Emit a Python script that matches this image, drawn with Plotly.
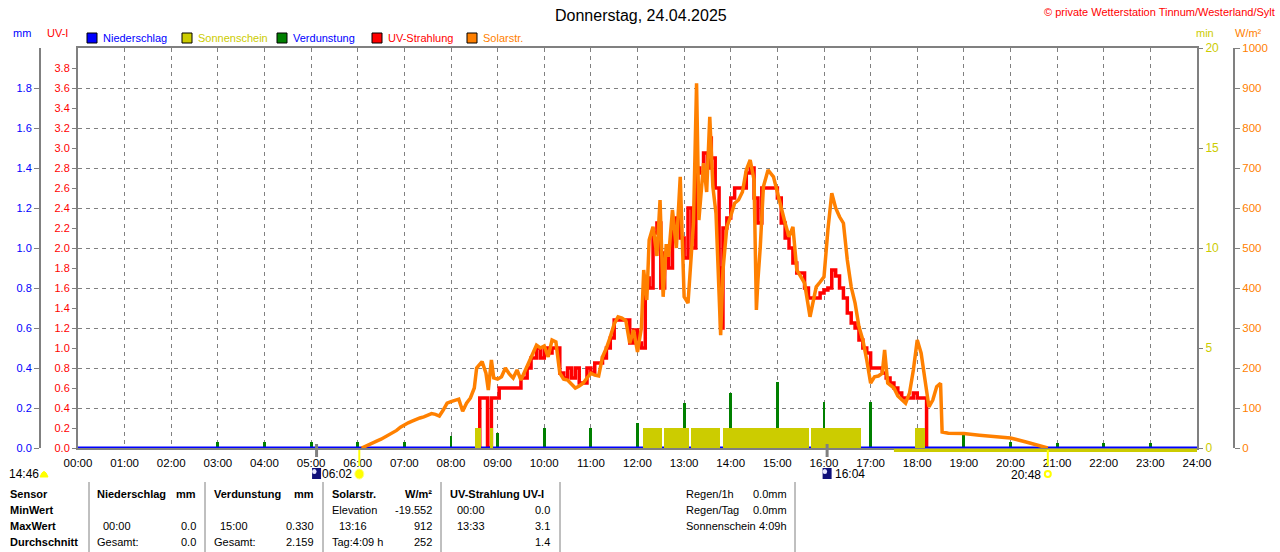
import plotly.graph_objects as go

W, H = 1280, 552

hour_labels = ["%02d:00" % h for h in range(25)]

# Sonnenschein (min je Minute)
sun_start = ["08:31", "08:50", "12:07", "12:34", "13:09", "13:50", "15:43", "17:57"]
sun_end = ["08:39", "08:54", "12:32", "13:06", "13:46", "15:41", "16:47", "18:10"]
sun_min = [1, 1, 1, 1, 1, 1, 1, 1]

# Verdunstung (mm je Stunde)
evap_time = ["03:00", "04:00", "05:00", "06:00", "07:00", "08:00", "09:00", "10:00",
             "11:00", "12:00", "13:00", "14:00", "15:00", "16:00", "17:00", "18:00",
             "19:00", "20:00", "21:00", "22:00", "23:00"]
evap_mm = [0.03, 0.03, 0.03, 0.03, 0.03, 0.06, 0.075, 0.1, 0.1, 0.125, 0.225, 0.275,
           0.33, 0.23, 0.23, 0.1, 0.07, 0.03, 0.025, 0.025, 0.025]

# Niederschlag
rain_time = ["00:00", "24:00"]
rain_mm = [0.0, 0.0]

# Solarstrahlung W/m2
solar_time = ["06:05", "06:10", "06:15", "06:20", "06:25", "06:30", "06:35", "06:40", "06:45",
              "06:50", "06:55", "07:00", "07:05", "07:10", "07:15", "07:20", "07:25", "07:30",
              "07:35", "07:40", "07:45", "07:50", "07:55", "08:00", "08:05", "08:10", "08:15",
              "08:20", "08:25", "08:30", "08:33", "08:40", "08:45", "08:48", "08:52", "08:55",
              "09:00", "09:05", "09:10", "09:15", "09:20", "09:25", "09:30", "09:35", "09:40",
              "09:45", "09:50", "09:55", "10:00", "10:05", "10:10", "10:15", "10:20", "10:25",
              "10:30", "10:35", "10:40", "10:45", "10:50", "10:55", "11:00", "11:05", "11:10",
              "11:15", "11:20", "11:25", "11:30", "11:35", "11:40", "11:45", "11:50", "11:55",
              "12:00", "12:05", "12:08", "12:12", "12:15", "12:20", "12:25", "12:29", "12:33",
              "12:37", "12:40", "12:45", "12:50", "12:55", "13:00", "13:05", "13:10", "13:12",
              "13:16", "13:19", "13:25", "13:29", "13:33", "13:37", "13:41", "13:44", "13:47",
              "13:50", "13:55", "14:00", "14:05", "14:10", "14:15", "14:20", "14:25", "14:30",
              "14:33", "14:35", "14:38", "14:42", "14:48", "14:55", "15:00", "15:05", "15:10",
              "15:15", "15:20", "15:25", "15:30", "15:35", "15:42", "15:50", "15:55", "16:00",
              "16:05", "16:10", "16:15", "16:20", "16:25", "16:30", "16:35", "16:40", "16:45",
              "16:50", "16:55", "17:00", "17:05", "17:10", "17:15", "17:18", "17:22", "17:30",
              "17:35", "17:40", "17:45", "17:50", "17:55", "18:00", "18:05", "18:10", "18:15",
              "18:20", "18:25", "18:30", "18:32", "18:40", "19:00", "19:20", "19:40", "20:00",
              "20:20", "20:35", "20:45", "20:48"]
solar_wm2 = [0, 5, 10, 14, 18, 22, 27, 32, 37,
             44, 52, 58, 63, 67, 72, 75, 78, 82,
             86, 84, 80, 95, 112, 116, 118, 122, 92,
             112, 125, 150, 200, 216, 187, 145, 220, 175,
             172, 178, 200, 185, 175, 195, 170, 190, 215,
             235, 257, 250, 255, 228, 270, 265, 187, 172,
             170, 160, 150, 155, 162, 175, 187, 182, 180,
             228, 250, 278, 310, 328, 325, 318, 262, 295,
             240, 300, 445, 370, 520, 553, 480, 620, 378,
             510, 478, 595, 500, 678, 378, 362, 500, 562,
             912, 570, 712, 640, 828, 653, 587, 400, 282,
             445, 553, 580, 612, 620, 640, 695, 720, 670,
             345, 420, 503, 653, 695, 678, 637, 600, 562,
             528, 553, 445, 430, 412, 328, 403, 415, 428,
             545, 637, 600, 578, 562, 470, 403, 362, 303,
             270, 220, 162, 178, 180, 187, 245, 162, 150,
             130, 120, 112, 137, 195, 270, 237, 170, 103,
             120, 153, 162, 40, 37, 36, 32, 28, 25,
             15, 6, 2, 0]

# UV-Index
uv_time = ["08:36", "08:37", "08:46", "08:47", "08:51", "08:52", "09:02", "09:30", "09:38",
           "09:43", "09:50", "09:55", "10:00", "10:05", "10:10", "10:20", "10:25", "10:30",
           "10:35", "10:40", "10:45", "10:55", "11:00", "11:05", "11:15", "11:20", "11:25",
           "11:30", "11:50", "11:55", "12:00", "12:05", "12:10", "12:15", "12:20", "12:25",
           "12:30", "12:35", "12:40", "12:45", "12:50", "12:55", "13:00", "13:05", "13:10",
           "13:15", "13:20", "13:25", "13:30", "13:33", "13:35", "13:40", "13:45", "13:47",
           "13:50", "13:55", "14:00", "14:05", "14:20", "14:25", "14:30", "14:35", "14:40",
           "15:00", "15:05", "15:10", "15:15", "15:20", "15:25", "15:35", "15:40", "15:55",
           "16:00", "16:05", "16:10", "16:15", "16:20", "16:25", "16:30", "16:35", "16:40",
           "16:45", "16:50", "16:55", "17:00", "17:15", "17:20", "17:25", "17:30", "17:35",
           "17:40", "17:55", "18:00", "18:12"]
uv_index = [0.0, 0.5, 0.5, 0.0, 0.0, 0.5, 0.6, 0.7, 0.8,
            0.9, 1.0, 0.9, 1.0, 0.95, 1.0, 0.75, 0.7, 0.8,
            0.7, 0.8, 0.65, 0.8, 0.75, 0.85, 0.9, 1.0, 1.1,
            1.28, 1.05, 1.18, 1.05, 1.0, 1.7, 1.6, 2.15, 2.25,
            1.6, 1.95, 1.8, 2.2, 2.3, 2.1, 1.9, 2.4, 2.0,
            2.8, 2.75, 2.95, 2.8, 3.1, 2.9, 2.6, 1.8, 1.2,
            2.2, 2.3, 2.5, 2.6, 2.75, 2.8, 2.5, 2.25, 2.6,
            2.5, 2.25, 2.1, 2.0, 1.85, 1.75, 1.6, 1.5, 1.55,
            1.58, 1.6, 1.78, 1.72, 1.6, 1.5, 1.35, 1.25, 1.2,
            1.08, 1.0, 0.95, 0.8, 0.75, 0.7, 0.65, 0.6, 0.55,
            0.5, 0.55, 0.5, 0.0]

dusk_line = ["17:30", "24:00"]
moon_events = ["05:07", "16:04"]
sun_events = ["06:02", "20:48"]
day_length = "14:46"


def hrs(s):
    h, m = s.split(":")
    return int(h) + int(m) / 60.0


def px(x):
    return x / W


def py(y):
    return 1 - y / H


GRAY = "#808080"
FONT = "Liberation Sans, Arial, sans-serif"

fig = go.Figure()

sx = [(hrs(a) + hrs(b)) / 2 for a, b in zip(sun_start, sun_end)]
sw = [hrs(b) - hrs(a) for a, b in zip(sun_start, sun_end)]
fig.add_trace(go.Bar(x=sx, y=sun_min, width=sw, yaxis="y3", marker_color="#cccc00",
                     marker_line_width=0, name="Sonnenschein"))
fig.add_trace(go.Bar(x=[hrs(t) for t in evap_time], y=evap_mm, width=0.06, yaxis="y2",
                     marker_color="#008000", marker_line_width=0, name="Verdunstung"))
fig.add_trace(go.Scatter(x=[hrs(t) for t in solar_time], y=solar_wm2, yaxis="y4", mode="lines",
                         line=dict(color="#ff8000", width=3.5), name="Solarstr."))
fig.add_trace(go.Scatter(x=[hrs(t) for t in uv_time], y=uv_index, yaxis="y", mode="lines",
                         line=dict(color="#ff0000", width=3.5, shape="hv"), name="UV-Strahlung"))
fig.add_trace(go.Scatter(x=[hrs(t) for t in rain_time], y=rain_mm, yaxis="y2", mode="lines",
                         line=dict(color="#0000ff", width=3), name="Niederschlag"))

xd = [px(78), px(1197)]
yd = [py(448), py(48)]

fig.update_layout(
    width=W, height=H, margin=dict(l=0, r=0, t=0, b=0, autoexpand=False),
    paper_bgcolor="white", plot_bgcolor="white",
    showlegend=False, barmode="overlay", bargap=0,
    font=dict(family=FONT, size=11, color="black"),
    xaxis=dict(domain=xd, range=[0, 24], tickvals=list(range(25)), ticktext=hour_labels,
               showgrid=True, gridcolor=GRAY, griddash="4px,4px", gridwidth=1,
               showline=True, linecolor=GRAY, linewidth=2, mirror=True, zeroline=False,
               ticks="outside", ticklen=3, tickcolor="rgba(0,0,0,0)", automargin=False,
               tickfont=dict(size=11.5, color="black")),
    yaxis=dict(domain=yd, range=[0, 4], tickvals=[i * 0.2 for i in range(20)],
               ticktext=["%.1f" % (i * 0.2) for i in range(20)], automargin=False,
               showgrid=False, zeroline=False, showline=True, linecolor=GRAY, linewidth=2,
               mirror=True, ticks="outside", ticklen=4, tickcolor=GRAY,
               tickfont=dict(color="#ff0000", size=11)),
    yaxis2=dict(overlaying="y", anchor="free", position=px(40), side="left", range=[0, 2],
                tickvals=[i * 0.2 for i in range(10)], automargin=False,
                ticktext=["%.1f" % (i * 0.2) for i in range(10)],
                showgrid=True, gridcolor=GRAY, griddash="4px,4px", gridwidth=1, zeroline=False,
                showline=True, linecolor=GRAY, linewidth=2, ticks="outside", ticklen=5,
                tickcolor=GRAY, tickfont=dict(color="#0000ff", size=11)),
    yaxis3=dict(overlaying="y", anchor="x", side="right", range=[0, 20], automargin=False,
                tickvals=[0, 5, 10, 15, 20], showgrid=False, zeroline=False, showline=False,
                ticks="outside", ticklen=5, tickcolor=GRAY,
                tickfont=dict(color="#cccc00", size=12)),
    yaxis4=dict(overlaying="y", anchor="free", position=px(1234), side="right", range=[0, 1000],
                tickvals=list(range(0, 1001, 100)), showgrid=False, zeroline=False,
                automargin=False,
                showline=True, linecolor=GRAY, linewidth=2, ticks="outside", ticklen=5,
                tickcolor=GRAY, tickfont=dict(color="#ff8000", size=11.5)),
)

ann = []


def txt(x, y, s, color="black", size=11, anchor="left", bold=False):
    if bold:
        s = "<b>" + s + "</b>"
    ann.append(dict(x=px(x), y=py(y), xref="paper", yref="paper", text=s, showarrow=False,
                    xanchor=anchor, yanchor="middle", font=dict(color=color, size=size, family=FONT)))


txt(641, 15, "Donnerstag, 24.04.2025", size=16, anchor="center")
txt(1277, 12, "© private Wetterstation Tinnum/Westerland/Sylt", color="#ff0000", anchor="right")
txt(22, 33, "mm", color="#0000ff", anchor="center")
txt(57, 33, "UV-I", color="#ff0000", anchor="center")
txt(1205, 33, "min", color="#cccc00", anchor="center")
txt(1248, 33, "W/m²", color="#ff8000", anchor="center")

legend = [("Niederschlag", "#0000ff", "#0000ff", 87),
          ("Sonnenschein", "#cccc00", "#cccc00", 182),
          ("Verdunstung", "#008000", "#0000ff", 277),
          ("UV-Strahlung", "#ff0000", "#ff0000", 372),
          ("Solarstr.", "#ff8000", "#ff8000", 467)]
shapes = []
for name, fill, tcol, x0 in legend:
    shapes.append(dict(type="rect", xref="paper", yref="paper", x0=px(x0), x1=px(x0 + 10),
                       y0=py(43), y1=py(33), fillcolor=fill, line=dict(color="black", width=1)))
    txt(x0 + 14, 38, name, color=tcol)

# Linie unter der Achse ab Abend
shapes.append(dict(type="line", xref="x", yref="paper", x0=hrs(dusk_line[0]), x1=hrs(dusk_line[1]),
                   y0=py(450.5), y1=py(450.5), line=dict(color="#cccc00", width=3)))

for t in moon_events:
    shapes.append(dict(type="line", xref="x", yref="paper", x0=hrs(t), x1=hrs(t),
                       y0=py(444), y1=py(457), line=dict(color=GRAY, width=3)))
for t in sun_events:
    shapes.append(dict(type="line", xref="x", yref="paper", x0=hrs(t), x1=hrs(t),
                       y0=py(450), y1=py(466), line=dict(color="#ffff00", width=2)))

# Symbole unter der Zeitachse
for t in moon_events:
    h = hrs(t)
    d = 4.5 / 46.625
    shapes.append(dict(type="rect", xref="x", yref="paper", x0=h - d, x1=h + d,
                       y0=py(479), y1=py(468), fillcolor="#10107a", line=dict(width=0)))
    shapes.append(dict(type="circle", xref="x", yref="paper", x0=h - d, x1=h,
                       y0=py(474), y1=py(469), fillcolor="#e8e8ff", line=dict(width=0)))
h = hrs(sun_events[0])
d = 4.5 / 46.625
shapes.append(dict(type="circle", xref="x", yref="paper", x0=h - d, x1=h + d,
                   y0=py(479), y1=py(469), fillcolor="#ffff00", line=dict(color="#ffff80", width=1)))
h = hrs(sun_events[1])
shapes.append(dict(type="circle", xref="x", yref="paper", x0=h - 3 / 46.625, x1=h + 3 / 46.625,
                   y0=py(477), y1=py(471), fillcolor="white", line=dict(color="#ffff00", width=2)))
shapes.append(dict(type="path", xref="paper", yref="paper",
                   path="M %f %f Q %f %f %f %f Z" % (px(40), py(477), px(44), py(466), px(48), py(477)),
                   fillcolor="#ffff00", line=dict(color="#ffff00", width=1)))

txt(24, 474, day_length, size=12, anchor="center")
txt(337, 474, sun_events[0], size=12, anchor="center")
txt(850, 474, moon_events[1], size=12, anchor="center")
txt(1026, 475, sun_events[1], size=12, anchor="center")

# Tabelle
for xline, y0 in [(89, 482), (205, 482), (323, 482), (441, 482), (560, 482), (795, 482)]:
    shapes.append(dict(type="line", xref="paper", yref="paper", x0=px(xline), x1=px(xline),
                       y0=py(y0), y1=py(552), line=dict(color=GRAY, width=1)))

row_y = [494, 510, 526, 542]
row_names = ["Sensor", "MinWert", "MaxWert", "Durchschnitt"]
for y, n in zip(row_y, row_names):
    txt(8, y, n, bold=True)

headers = [("Niederschlag", 95, "left"), ("mm", 198, "right"), ("Verdunstung", 212, "left"),
           ("mm", 316, "right"), ("Solarstr.", 330, "left"), ("W/m²", 434, "right"),
           ("UV-Strahlung UV-I", 448, "left")]
for s, x, a in headers:
    txt(x, row_y[0], s, anchor=a, bold=True)

cells = [
    (510, [("Elevation", 330, "left"), ("-19.552", 434, "right"), ("00:00", 455, "left"),
           ("0.0", 552, "right")]),
    (526, [("00:00", 101, "left"), ("0.0", 198, "right"), ("15:00", 218, "left"),
           ("0.330", 316, "right"), ("13:16", 337, "left"), ("912", 434, "right"),
           ("13:33", 455, "left"), ("3.1", 552, "right")]),
    (542, [("Gesamt:", 95, "left"), ("0.0", 198, "right"), ("Gesamt:", 212, "left"),
           ("2.159", 316, "right"), ("Tag:4:09 h", 330, "left"), ("252", 434, "right"),
           ("1.4", 552, "right")]),
]
for y, row in cells:
    for s, x, a in row:
        txt(x, y, s, anchor=a)

summary = [("Regen/1h", "0.0mm"), ("Regen/Tag", "0.0mm"), ("Sonnenschein", "4:09h")]
for y, (k, v) in zip(row_y, summary):
    txt(684, y, k)
    txt(789, y, v, anchor="right")

fig.update_layout(annotations=ann, shapes=shapes)

fig.write_html("out.html", config={"displayModeBar": False},
               post_script="document.body.style.margin='0';")
